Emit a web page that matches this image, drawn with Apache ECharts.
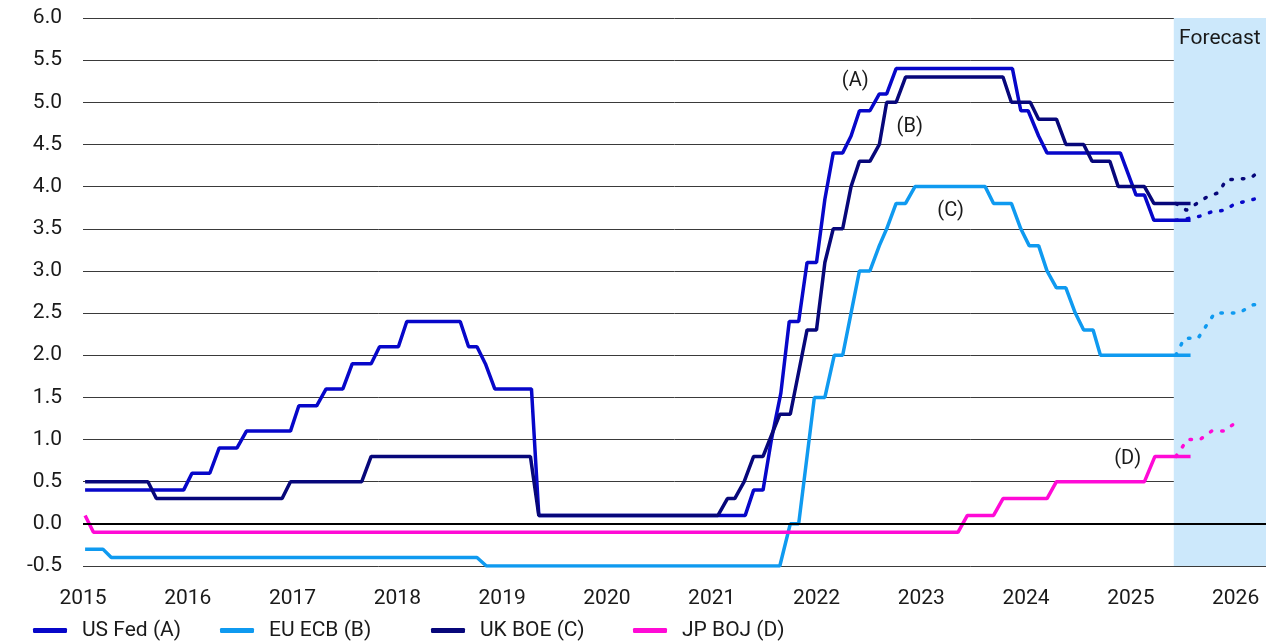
<!DOCTYPE html>
<html><head><meta charset="utf-8">
<script src="https://cdn.jsdelivr.net/npm/echarts@6/dist/echarts.min.js"></script>
<style>html,body{margin:0;padding:0;background:#fff}#c{width:1287px;height:643px}</style>
</head><body><div id="c"></div>
<script>
// ---- data (decimal years, percent) ----
const seriesNames = ['US Fed (A)', 'EU ECB (B)', 'UK BOE (C)', 'JP BOJ (D)'];
const fedActual = [[2015.02,0.4],[2015.96,0.4],[2016.04,0.6],[2016.21,0.6],[2016.30,0.9],[2016.47,0.9],[2016.56,1.1],[2016.98,1.1],[2017.06,1.4],[2017.23,1.4],[2017.32,1.6],[2017.48,1.6],[2017.57,1.9],[2017.75,1.9],[2017.83,2.1],[2018.01,2.1],[2018.09,2.4],[2018.60,2.4],[2018.68,2.1],[2018.76,2.1],[2018.84,1.9],[2018.93,1.6],[2019.28,1.6],[2019.35,0.1],[2021.32,0.1],[2021.40,0.4],[2021.49,0.4],[2021.57,1.0],[2021.66,1.55],[2021.74,2.4],[2021.83,2.4],[2021.91,3.1],[2022.00,3.1],[2022.08,3.85],[2022.16,4.4],[2022.25,4.4],[2022.33,4.6],[2022.41,4.9],[2022.51,4.9],[2022.60,5.1],[2022.67,5.1],[2022.76,5.4],[2023.87,5.4],[2023.95,4.9],[2024.02,4.9],[2024.12,4.6],[2024.20,4.4],[2024.90,4.4],[2025.05,3.9],[2025.13,3.9],[2025.22,3.6],[2025.57,3.6]];
const ecbActual = [[2015.02,-0.3],[2015.19,-0.3],[2015.27,-0.4],[2018.76,-0.4],[2018.85,-0.5],[2021.65,-0.5],[2021.75,0.0],[2021.83,0.0],[2021.98,1.5],[2022.08,1.5],[2022.17,2.0],[2022.25,2.0],[2022.33,2.5],[2022.41,3.0],[2022.51,3.0],[2022.60,3.3],[2022.67,3.5],[2022.76,3.8],[2022.85,3.8],[2022.94,4.0],[2023.61,4.0],[2023.69,3.8],[2023.86,3.8],[2023.95,3.5],[2024.03,3.3],[2024.12,3.3],[2024.20,3.0],[2024.29,2.8],[2024.38,2.8],[2024.47,2.5],[2024.55,2.3],[2024.64,2.3],[2024.71,2.0],[2025.57,2.0]];
const boeActual = [[2015.02,0.5],[2015.62,0.5],[2015.70,0.3],[2016.90,0.3],[2016.98,0.5],[2017.66,0.5],[2017.75,0.8],[2019.27,0.8],[2019.35,0.1],[2021.06,0.1],[2021.15,0.3],[2021.22,0.3],[2021.31,0.5],[2021.40,0.8],[2021.49,0.8],[2021.65,1.3],[2021.75,1.3],[2021.91,2.3],[2022.00,2.3],[2022.08,3.1],[2022.16,3.5],[2022.25,3.5],[2022.33,4.0],[2022.41,4.3],[2022.51,4.3],[2022.60,4.5],[2022.67,5.0],[2022.76,5.0],[2022.85,5.3],[2023.78,5.3],[2023.86,5.0],[2024.04,5.0],[2024.12,4.8],[2024.29,4.8],[2024.38,4.5],[2024.55,4.5],[2024.63,4.3],[2024.80,4.3],[2024.88,4.0],[2025.13,4.0],[2025.22,3.8],[2025.57,3.8]];
const bojActual = [[2015.02,0.1],[2015.10,-0.1],[2023.35,-0.1],[2023.44,0.1],[2023.69,0.1],[2023.78,0.3],[2024.20,0.3],[2024.29,0.5],[2025.13,0.5],[2025.23,0.8],[2025.57,0.8]];
const fedForecast = [[2025.43,3.6],[2025.54,3.62],[2025.66,3.65],[2025.77,3.70],[2025.89,3.72],[2026.00,3.80],[2026.12,3.83],[2026.25,3.88]];
const ecbForecast = [[2025.43,2.0],[2025.51,2.2],[2025.64,2.2],[2025.80,2.5],[2026.03,2.5],[2026.17,2.6],[2026.25,2.6]];
const boeForecast = [[2025.43,3.8],[2025.53,3.72],[2025.63,3.80],[2025.73,3.88],[2025.84,3.93],[2025.91,4.08],[2026.14,4.10],[2026.25,4.20]];
const bojForecast = [[2025.43,0.8],[2025.54,1.0],[2025.66,1.0],[2025.77,1.1],[2025.89,1.1],[2026.00,1.2]];
const forecastStart = 2025.41;
const xMin = 2015, xMax = 2026.29;
const yMin = -0.5, yMax = 6.0, yStep = 0.5;
const annotationTexts = ['(A)', '(B)', '(C)', '(D)'];
const annotationX = [2022.37, 2022.89, 2023.28, 2024.97];
const annotationY = [5.25, 4.71, 3.71, 0.77];

// ---- styles ----
const colors = ['#0707c9', '#0f9af0', '#07077a', '#ff0ad6'];
const FONT = 'Roboto';
const TXT = '#1a1a1a';

const actuals = [fedActual, ecbActual, boeActual, bojActual];
const forecasts = [fedForecast, ecbForecast, boeForecast, bojForecast];

const series = [];
series.push({
  name: 'band', type: 'line', data: [], z: -1, silent: true,
  markArea: {
    silent: true,
    itemStyle: { color: '#cce8fb' },
    label: { show: true, position: 'insideTop', distance: 10, formatter: 'Forecast',
             fontSize: 21, color: TXT, fontFamily: FONT },
    data: [[{ xAxis: forecastStart, yAxis: yMin }, { xAxis: xMax, yAxis: yMax }]]
  }
});
actuals.forEach((d, i) => {
  const s = {
    name: seriesNames[i], type: 'line', data: d, color: colors[i],
    showSymbol: false, symbol: 'none', z: 3,
    lineStyle: { width: 3.5, color: colors[i] },
    emphasis: { disabled: true }
  };
  if (i === 3) {
    s.markLine = { silent: true, symbol: 'none', label: { show: false },
      lineStyle: { color: '#000', width: 2, type: 'solid' }, data: [{ yAxis: 0 }] };
  }
  series.push(s);
});
forecasts.forEach((d, i) => {
  series.push({
    name: seriesNames[i] + ' forecast', type: 'line', data: d, color: colors[i],
    showSymbol: false, symbol: 'none', z: 3,
    lineStyle: { width: 3.5, color: colors[i], type: [1.5, 10], cap: 'round' },
    emphasis: { disabled: true }
  });
});
series.push({
  name: 'annotations', type: 'scatter', symbolSize: 0, z: 4, silent: true,
  itemStyle: { opacity: 1 },
  data: annotationTexts.map((t, i) => ({ name: t, value: [annotationX[i], annotationY[i]] })),
  label: { show: true, position: 'inside', formatter: p => p.name, opacity: 1,
           fontSize: 20, color: TXT, fontFamily: FONT }
});

const legendLeft = [33, 220, 431, 633];
const legends = seriesNames.map((n, i) => ({
  data: [n], left: legendLeft[i], top: 620, padding: 0, selectedMode: false,
  icon: 'roundRect', itemWidth: 34, itemHeight: 5,
  textStyle: { fontSize: 21, color: TXT, fontFamily: FONT, padding: [0, 0, 0, 10] }
}));

const chart = echarts.init(document.getElementById('c'), null, { renderer: 'canvas' });
chart.setOption({
  animation: false,
  backgroundColor: '#fff',
  textStyle: { fontFamily: FONT },
  grid: { left: 83, right: 21, top: 18, bottom: 77 },
  legend: legends,
  xAxis: {
    type: 'value', min: xMin, max: xMax, interval: 1,
    axisLine: { show: false }, axisTick: { show: false }, splitLine: { show: false },
    axisLabel: { showMaxLabel: false, margin: 22, fontSize: 21, color: TXT, fontFamily: FONT,
      formatter: v => (Math.abs(v - Math.round(v)) < 1e-6 ? String(Math.round(v)) : '') }
  },
  yAxis: {
    type: 'value', min: yMin, max: yMax, interval: yStep,
    axisLine: { show: false }, axisTick: { show: false },
    splitLine: { show: true, lineStyle: { color: '#3a3a3a', width: 1 } },
    axisLabel: { margin: 21, fontSize: 21, color: TXT, fontFamily: FONT,
      formatter: v => v.toFixed(1) }
  },
  series: series
});
</script>
</body></html>
